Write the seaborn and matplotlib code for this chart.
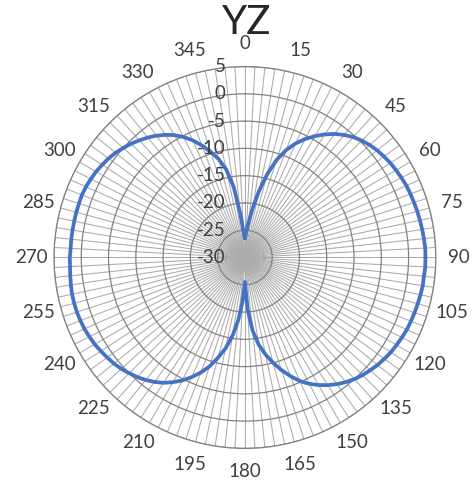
import numpy as np
import pandas as pd
import matplotlib
matplotlib.use("Agg")
import matplotlib.pyplot as plt
import seaborn as sns

# Radiation pattern, YZ plane: gain in dB sampled every 3 degrees
title = "YZ"
angle_deg = np.arange(0, 360, 3)
gain_db = [
    -26.5, -25.3, -23.5, -20.8, -17.5, -14.2, -11.2, -8.9, -7.1, -5.6,   # 0-27
    -4.3, -3.1, -2.0, -1.1, -0.3, 0.3, 0.8, 1.2, 1.5, 1.8,               # 30-57
    2.0, 2.2, 2.4, 2.5, 2.6, 2.7, 2.8, 2.9, 3.0, 3.1,                    # 60-87
    3.1, 3.1, 3.0, 3.0, 2.9, 2.8, 2.7, 2.6, 2.5, 2.3,                    # 90-117
    2.1, 1.9, 1.6, 1.3, 0.9, 0.5, 0.0, -0.6, -1.3, -2.1,                 # 120-147
    -3.0, -4.0, -5.2, -6.7, -8.3, -10.0, -11.8, -13.8, -16.5, -20.5,     # 150-177
    -25.5, -22.0, -18.5, -15.5, -13.0, -11.0, -9.0, -7.4, -6.0, -4.7,    # 180-207
    -3.6, -2.6, -1.8, -1.1, -0.5, 0.0, 0.5, 0.9, 1.2, 1.5,               # 210-237
    1.8, 2.0, 2.2, 2.3, 2.4, 2.4, 2.4, 2.3, 2.2, 2.1,                    # 240-267
    2.1, 2.0, 2.0, 2.0, 2.0, 2.0, 2.0, 2.0, 1.9, 1.7,                    # 270-297
    1.5, 1.2, 0.9, 0.5, 0.0, -0.5, -1.1, -1.7, -2.4, -3.2,               # 300-327
    -4.1, -5.2, -6.5, -8.0, -9.6, -11.3, -13.5, -17.0, -22.0, -25.3,     # 330-357
]
r_ticks = [-30, -25, -20, -15, -10, -5, 0, 5]
label_step = 15

sns.set_theme(style="white")
plt.rcParams["font.family"] = ["Lato", "DejaVu Sans"]

text_color = "#404040"
ring_color = "#828282"
spoke_color = "#ababab"
line_color = "#4472C4"

fig = plt.figure(figsize=(4.72, 4.86), dpi=100)
ax = fig.add_axes([0.1144, 0.0772, 0.809, 0.786], projection="polar")
ax.set_theta_zero_location("N")
ax.set_theta_direction(-1)

# close the loop back at 360 degrees
theta = np.deg2rad(np.r_[angle_deg, 360])
gain = np.r_[gain_db, gain_db[0]]
df = pd.DataFrame({"theta": theta, "gain": gain})
sns.lineplot(data=df, x="theta", y="gain", ax=ax, sort=False, estimator=None,
             color=line_color, linewidth=2.7, zorder=5)

ax.set_xlabel("")
ax.set_ylabel("")
ax.set_rlim(r_ticks[0], r_ticks[-1])

# spokes every 3 degrees, labelled every 15
ax.set_xticks(np.deg2rad(angle_deg))
ax.set_xticklabels([str(a) if a % label_step == 0 else "" for a in angle_deg])
ax.tick_params(axis="x", pad=9.5, length=0, labelsize=13.5, colors=text_color)
ax.xaxis.grid(True, color=spoke_color, linewidth=0.75)

ax.set_yticks(r_ticks)
ax.set_yticklabels([])
ax.yaxis.grid(True, color=ring_color, linewidth=0.9)
ax.spines["polar"].set_color(ring_color)
ax.spines["polar"].set_linewidth(0.9)

# radial value labels along the 0-degree spoke
for v in r_ticks:
    ax.annotate(str(v), xy=(0, v), xytext=(-14, 0), textcoords="offset points",
                ha="right", va="center", fontsize=13.5, color=text_color, zorder=6)

fig.text(0.522, 1 - 23 / 486, title, ha="center", va="center",
         fontsize=29, color="#262626")

fig.savefig("out.png", dpi=100)
